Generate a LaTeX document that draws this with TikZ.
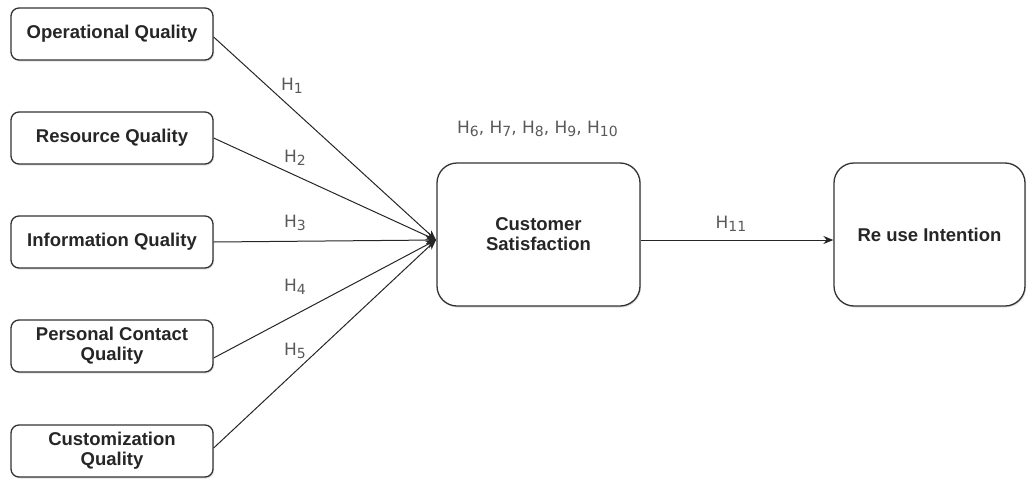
\documentclass[tikz,border=0pt]{standalone}
\usepackage{fontspec}
\setmainfont{Liberation Sans}
\newfontfamily\labfont{DejaVu Sans}
\usetikzlibrary{arrows.meta,shadows}
\newcommand\hsub[1]{\raisebox{-0.35ex}{\fontsize{14}{14}\selectfont #1}}
\begin{document}
\begin{tikzpicture}[x=1pt,y=-1pt,
  box/.style={draw=black!80, rounded corners=8pt, line width=1.3pt, fill=white, align=center,
    font=\bfseries\fontsize{18.5}{20}\selectfont, text=black!85, inner sep=0pt,
    minimum width=202pt, minimum height=52pt,
    drop shadow={shadow xshift=1pt, shadow yshift=-1.5pt, opacity=0.25}},
  bigbox/.style={box, rounded corners=20pt, minimum height=143pt},
  lab/.style={font=\labfont\fontsize{17}{18}\selectfont, text=black!65, inner sep=1pt},
  arr/.style={draw=black!85, line width=1pt, -{Stealth[length=10pt,width=8pt]}}]
\useasboundingbox (0,0) rectangle (1027,479);
\node[box] (op) at (112,34) {Operational Quality};
\node[box] (rq) at (112,138) {Resource Quality};
\node[box] (iq) at (112,242) {Information Quality};
\node[box] (pc) at (112,346) {Personal Contact\\Quality};
\node[box] (cq) at (112,451) {Customization\\Quality};
\node[bigbox, minimum width=203pt] (cs) at (538.5,234.5) {Customer\\Satisfaction};
\node[bigbox, minimum width=191pt] (ri) at (929.5,234.5) {Re use Intention};
\coordinate (conv) at (436,240);
\coordinate (csout) at (cs.east |- conv);
\coordinate (riin) at (ri.west |- conv);
\draw[arr] ([yshift=-3pt]op.east) -- (conv);
\draw[arr] (rq.east) -- (conv);
\draw[arr] (iq.east) -- (conv);
\draw[arr] ([yshift=-12pt]pc.east) -- (conv);
\draw[arr] ([yshift=3pt]cq.east) -- (conv);
\draw[arr] (csout) -- (riin);
\node[lab] (h1) at (292,86) {H\hsub{1}};
\node[lab] (h2) at (295,158) {H\hsub{2}};
\node[lab] (h3) at (295,223) {H\hsub{3}};
\node[lab] (h4) at (295,287) {H\hsub{4}};
\node[lab] (h5) at (295,351) {H\hsub{5}};
\node[lab] (h610) at (537.5,129) {H\hsub{6}, H\hsub{7}, H\hsub{8}, H\hsub{9}, H\hsub{10}};
\node[lab] (h11) at (731,224) {H\hsub{11}};
\end{tikzpicture}
\end{document}
